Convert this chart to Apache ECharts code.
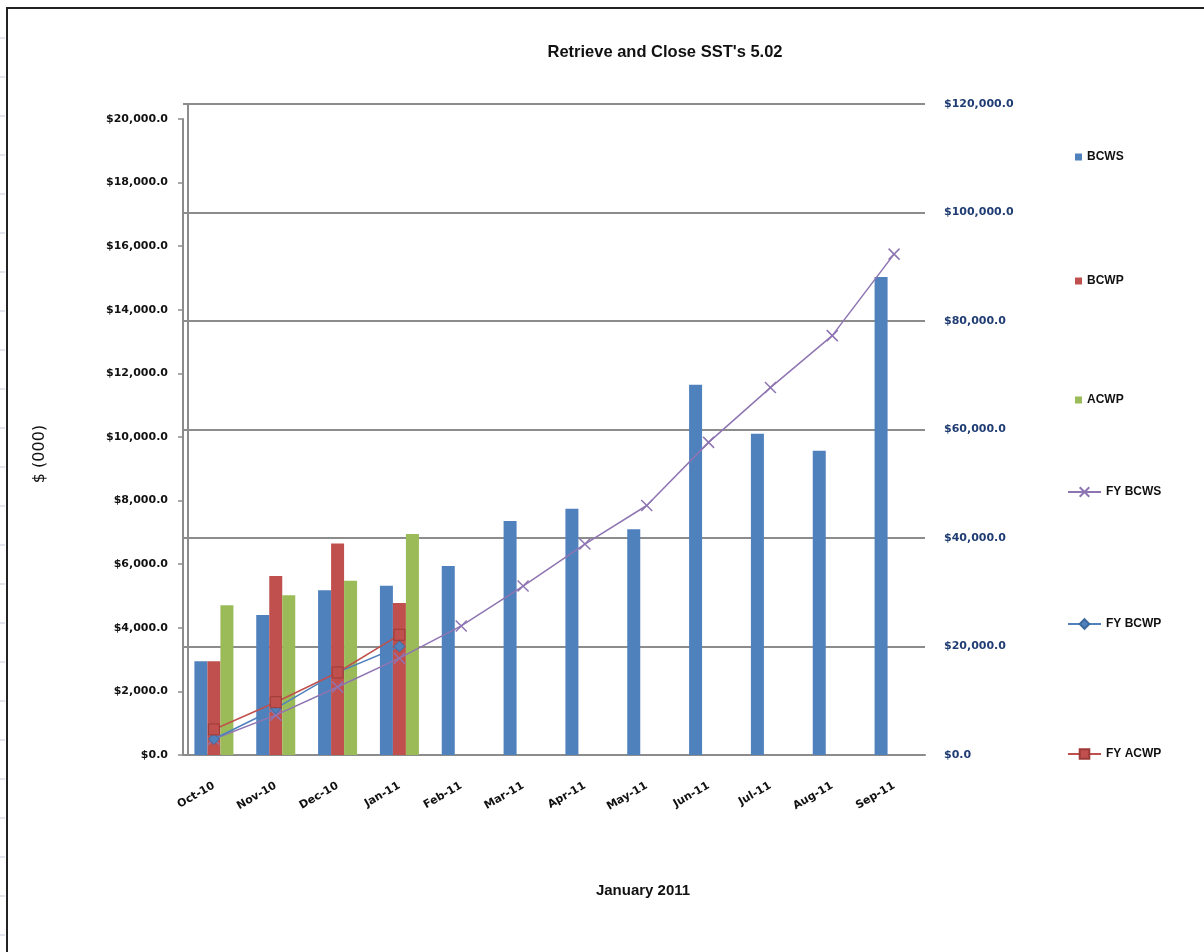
<!DOCTYPE html>
<html>
<head>
<meta charset="utf-8">
<script src="https://cdn.jsdelivr.net/npm/echarts@6/dist/echarts.min.js"></script>
<style>
  html, body { margin: 0; padding: 0; background: #fff; }
  #chart { width: 1204px; height: 952px; }
</style>
</head>
<body>
<div id="chart"></div>
<script>
const months = ['Oct-10', 'Nov-10', 'Dec-10', 'Jan-11', 'Feb-11', 'Mar-11', 'Apr-11', 'May-11', 'Jun-11', 'Jul-11', 'Aug-11', 'Sep-11'];

// monthly values, $(000), left axis
const bcws = [2950, 4400, 5180, 5320, 5940, 7360, 7740, 7100, 11640, 10100, 9570, 15030];
const bcwp = [2950, 5630, 6650, 4780, null, null, null, null, null, null, null, null];
const acwp = [4710, 5020, 5480, 6950, null, null, null, null, null, null, null, null];

// fiscal-year running totals, right axis
const fyBcws = [2950, 7350, 12530, 17850, 23790, 31150, 38890, 45990, 57630, 67730, 77300, 92330];
const fyBcwp = [2950, 8580, 15230, 20010];
const fyAcwp = [4710, 9730, 15210, 22160];

const leftTicks = { min: 0, max: 20000, step: 2000 };
const rightTicks = { min: 0, max: 120000, step: 20000 };

const chart = echarts.init(document.getElementById('chart'));

const font = '"Liberation Sans", Arial, sans-serif';
const axisFont = '"DejaVu Sans", sans-serif';
const money = v => '$' + v.toLocaleString('en-US', { minimumFractionDigits: 1, maximumFractionDigits: 1 });
const xMark = 'path://M0,0L10,10M10,0L0,10';

function legendAt(name, left, top, w, h, icon) {
  return {
    data: [{ name: name, icon: icon }],
    orient: 'vertical',
    left: left,
    top: top,
    padding: 0,
    itemWidth: w,
    itemHeight: h,
    selectedMode: false,
    textStyle: { fontFamily: font, fontSize: 12, fontWeight: 'bold', color: '#111' }
  };
}

// faint spreadsheet row marks left of the frame
const rowMarks = [];
for (let y = 38; y < 952; y += 39) {
  rowMarks.push({ type: 'line', shape: { x1: 0, y1: y, x2: 5, y2: y }, style: { stroke: '#c5cbd8', lineWidth: 1 } });
}

chart.setOption({
  animation: false,
  title: [
    {
      text: "Retrieve and Close SST's 5.02",
      left: 660, top: 39, textAlign: 'center',
      textStyle: { fontFamily: font, fontSize: 16.5, fontWeight: 'bold', color: '#111' }
    },
    {
      text: 'January 2011',
      left: 638, top: 878, textAlign: 'center',
      textStyle: { fontFamily: font, fontSize: 15, fontWeight: 'bold', color: '#111' }
    }
  ],
  graphic: rowMarks.concat([
    { type: 'rect', shape: { x: 7, y: 8, width: 1400, height: 1200 }, style: { fill: null, stroke: '#222', lineWidth: 2 } },
    { type: 'line', shape: { x1: 188, y1: 104, x2: 188, y2: 755 }, style: { stroke: '#8c8c8c', lineWidth: 2 } },
    {
      type: 'text', x: 40, y: 454, rotation: Math.PI / 2,
      style: { text: '$ (000)', fontFamily: axisFont, fontSize: 16, fill: '#111', align: 'center', verticalAlign: 'middle' }
    }
  ]),
  legend: [
    legendAt('BCWS', 1075, 151, 7, 7, 'rect'),
    legendAt('BCWP', 1075, 275, 7, 7, 'rect'),
    legendAt('ACWP', 1075, 394, 7, 7, 'rect'),
    legendAt('FY BCWS', 1067, 486, 33, 12),
    legendAt('FY BCWP', 1067, 618, 33, 12),
    legendAt('FY ACWP', 1067, 748, 33, 12)
  ],
  grid: [
    { left: 183, right: 279, top: 119, bottom: 197 },
    { left: 183, right: 279, top: 104, bottom: 197 }
  ],
  xAxis: [
    {
      type: 'category', gridIndex: 0, data: months,
      axisLine: { lineStyle: { color: '#8c8c8c', width: 2 } },
      axisTick: { length: 5, lineStyle: { color: '#8c8c8c', width: 1.5 } },
      axisLabel: {
        rotate: 30, margin: 30,
        fontFamily: axisFont, fontSize: 11, fontWeight: 'bold', color: '#111'
      }
    },
    { type: 'category', gridIndex: 1, data: months, show: false }
  ],
  yAxis: [
    {
      type: 'value', gridIndex: 0,
      min: leftTicks.min, max: leftTicks.max, interval: leftTicks.step,
      axisLine: { show: true, lineStyle: { color: '#8c8c8c', width: 2 } },
      axisTick: { show: true, length: 5, lineStyle: { color: '#8c8c8c', width: 1.5 } },
      splitLine: { show: false },
      axisLabel: { margin: 15, fontFamily: axisFont, fontSize: 11, fontWeight: 'bold', color: '#111', formatter: money }
    },
    {
      type: 'value', gridIndex: 1, position: 'right',
      min: rightTicks.min, max: rightTicks.max, interval: rightTicks.step,
      axisLine: { show: false },
      axisTick: { show: false },
      splitLine: { show: true, lineStyle: { color: '#8c8c8c', width: 2 } },
      axisLabel: { margin: 19, fontFamily: axisFont, fontSize: 11, fontWeight: 'bold', color: '#1f3c73', formatter: money }
    }
  ],
  series: [
    { name: 'BCWS', type: 'bar', data: bcws, barWidth: 13, barGap: '0%', itemStyle: { color: '#4F81BD' } },
    { name: 'BCWP', type: 'bar', data: bcwp, barWidth: 13, barGap: '0%', itemStyle: { color: '#C0504D' } },
    { name: 'ACWP', type: 'bar', data: acwp, barWidth: 13, barGap: '0%', itemStyle: { color: '#9BBB59' } },
    {
      name: 'FY BCWS', type: 'line', xAxisIndex: 1, yAxisIndex: 1, data: fyBcws,
      symbol: xMark, symbolSize: 11,
      lineStyle: { color: '#8E75B2', width: 1.5 },
      itemStyle: { color: '#8E75B2', borderColor: '#8E75B2', borderWidth: 1.5 }
    },
    {
      name: 'FY BCWP', type: 'line', xAxisIndex: 1, yAxisIndex: 1, data: fyBcwp,
      symbol: 'diamond', symbolSize: 11,
      lineStyle: { color: '#4F81BD', width: 1.5 },
      itemStyle: { color: '#4F81BD', borderColor: '#3d6a9e', borderWidth: 1 }
    },
    {
      name: 'FY ACWP', type: 'line', xAxisIndex: 1, yAxisIndex: 1, data: fyAcwp,
      symbol: 'rect', symbolSize: 11,
      lineStyle: { color: '#C0504D', width: 1.5 },
      itemStyle: { color: '#C0504D', borderColor: '#9c3b38', borderWidth: 1 }
    }
  ]
});
</script>
</body>
</html>
